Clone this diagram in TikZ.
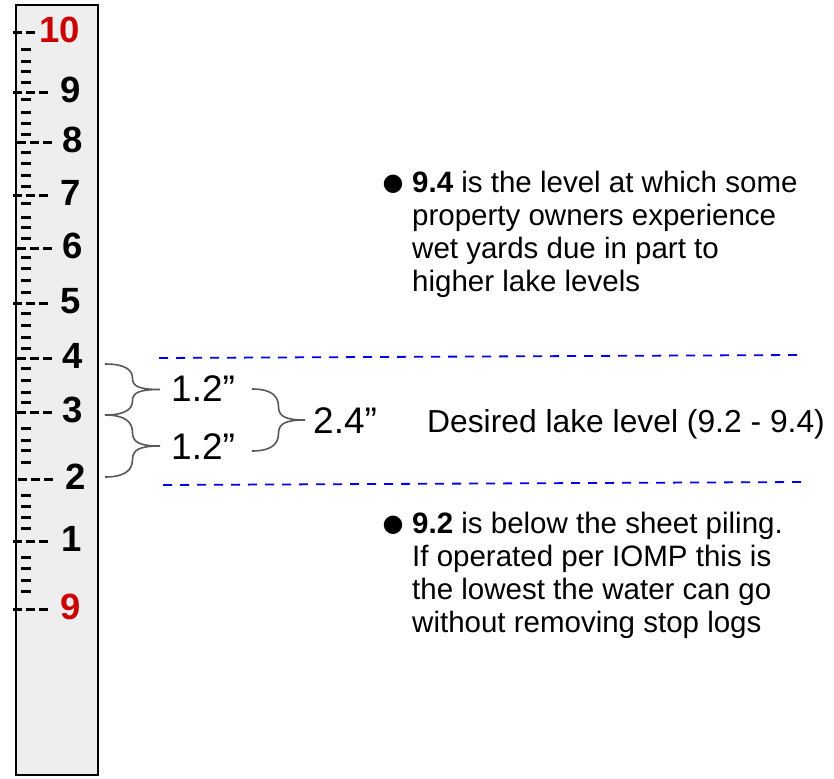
\documentclass[tikz,border=0pt]{standalone}
\usepackage{fontspec}
\setmainfont{Liberation Sans}
\newfontfamily\bulletfont{DejaVu Sans}
\definecolor{rulergray}{HTML}{EEEEEE}
\definecolor{lblred}{HTML}{CC0000}
\definecolor{lineblue}{HTML}{0000EE}
\definecolor{bracegray}{HTML}{595959}
\newcommand\lakebrace[4]{% x0, ytop, ybot, xtip
  \draw[brc] (#1,#2)
    .. controls ({#1+0.75*(#4-#1)/2},#2) and ({(#1+#4)/2},{#2+0.12*(#3-#2)})
    .. ({(#1+#4)/2},{#2+0.28*(#3-#2)})
    .. controls ({(#1+#4)/2},{#2+0.44*(#3-#2)}) and ({(#1+#4)/2+0.25*(#4-#1)/2},{(#2+#3)/2})
    .. (#4,{(#2+#3)/2})
    .. controls ({(#1+#4)/2+0.25*(#4-#1)/2},{(#2+#3)/2}) and ({(#1+#4)/2},{#3-0.44*(#3-#2)})
    .. ({(#1+#4)/2},{#3-0.28*(#3-#2)})
    .. controls ({(#1+#4)/2},{#3-0.12*(#3-#2)}) and ({#1+0.75*(#4-#1)/2},#3)
    .. (#1,#3);}
\begin{document}
\begin{tikzpicture}[x=1pt,y=-1pt,
  majortick/.style={line width=3pt, dash pattern=on 9pt off 4pt},
  minortick/.style={line width=3pt},
  lbl/.style={font=\fontsize{36.5}{40}\selectfont\bfseries, anchor=base, inner sep=0pt},
  brc/.style={draw=bracegray, line width=1.6pt},
  brlabel/.style={font=\fontsize{37}{40}\selectfont, anchor=base west, inner sep=0pt},
  body/.style={font=\fontsize{29.5}{33}\selectfont, anchor=base west, inner sep=0pt},
  bul/.style={font=\fontsize{24}{27}\selectfont\bulletfont, anchor=center, inner sep=0pt},
  level/.style={draw=lineblue, line width=1.8pt, dash pattern=on 9pt off 8pt}]
\useasboundingbox (0,0) rectangle (834,778);
% ruler
\draw[fill=rulergray, line width=2pt] (16,5) rectangle (98,775);
\foreach \yy in {50,62,72,83,100,113,124,135,153,164,175,186,203,217,227,238,257,268,280,292,313,325,337,348,368,380,392,402,428,440,450,462,495,506,517,528,557,568,580,591}
  \draw[minortick] (21,\yy) -- (31,\yy);
\draw[majortick] (13,33) -- ++(22,0);
\foreach \yy/\xx in {93/13,143/16.5,195/13,248/17,303/13,358/17,412/17,479/18,541/13,609/13}
  \draw[majortick] (\xx,\yy) -- ++(35,0);
% labels
\node[lbl, text=lblred] (l10) at (59.5,43) {10};
\node[lbl] (l9) at (71,103) {9};
\node[lbl] (l8) at (72.5,153) {8};
\node[lbl] (l7) at (71,205) {7};
\node[lbl] (l6) at (72.5,258) {6};
\node[lbl] (l5) at (71,313) {5};
\node[lbl] (l4) at (72.5,368) {4};
\node[lbl] (l3) at (73,422) {3};
\node[lbl] (l2) at (76,489) {2};
\node[lbl] (l1) at (72,551) {1};
\node[lbl, text=lblred] (l9b) at (71,619) {9};
% braces
\lakebrace{105}{364}{415}{160}
\lakebrace{105}{415}{477}{160}
\lakebrace{252}{389}{451}{305}
\node[brlabel] (a) at (171,401) {1.2”};
\node[brlabel] (b) at (171,459) {1.2”};
\node[brlabel] (c) at (313,433) {2.4”};
% level lines
\coordinate (t1) at (159,358);
\coordinate (t2) at (797,355);
\coordinate (b1) at (163,485);
\coordinate (b2) at (802,482);
\draw[level] (t1) -- (t2);
\draw[level] (b1) -- (b2);
\node[body, font=\fontsize{31.8}{33}\selectfont] (des) at (427,432) {Desired lake level (9.2 - 9.4)};
% bullet 1
\node[bul] (bu1) at (393,184) {●};
\node[body] (p1) at (412,192) {\textbf{9.4} is the level at which some};
\node[body] (p2) at (412,225) {property owners experience};
\node[body] (p3) at (412,258) {wet yards due in part to};
\node[body] (p4) at (412,291) {higher lake levels};
% bullet 2
\node[bul] (bu2) at (393,525) {●};
\node[body] (q1) at (412,533) {\textbf{9.2} is below the sheet piling.};
\node[body] (q2) at (412,566) {If operated per IOMP this is};
\node[body] (q3) at (412,599) {the lowest the water can go};
\node[body] (q4) at (412,632) {without removing stop logs};
\end{tikzpicture}
\end{document}
